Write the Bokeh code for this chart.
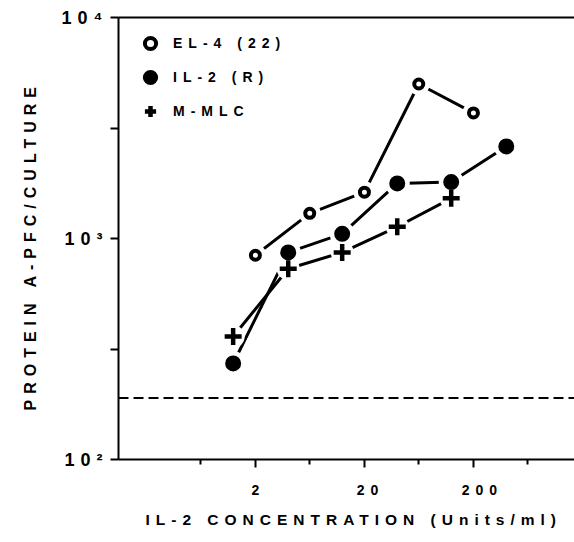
from bokeh.plotting import figure
from bokeh.models import Range1d, FixedTicker, LogAxis, Span, Legend, LegendItem, Title
from bokeh.embed import file_html
from bokeh.resources import INLINE

# ---- data ----
el4_x = [2, 6.3, 20, 63, 200]
el4_y = [840, 1300, 1620, 5000, 3700]
il2_x = [1.25, 4, 12.5, 40, 125, 400]
il2_y = [272, 865, 1050, 1775, 1800, 2610]
mlc_x = [1.25, 4, 12.5, 40, 125]
mlc_y = [360, 730, 865, 1130, 1520]
background_pfc = 190

series_names = ["EL-4 (22)", "IL-2 (R)", "M-MLC"]
x_major_ticks = [2, 20, 200]
x_major_labels = ["2", "20", "200"]
x_minor_ticks = [0.632, 6.32, 63.2, 632]
y_major_ticks = [100, 1000, 10000]
y_major_labels = ["10\u00b2", "10\u00b3", "10\u2074"]
y_minor_ticks = [316.2, 3162]
x_title = "IL-2 CONCENTRATION (Units/ml)"
y_title = "PROTEIN A-PFC/CULTURE"

x_lo, x_hi = 0.111, 1690
y_lo, y_hi = 100, 10000

FONT = "Liberation Sans"

p = figure(width=574, height=541, x_axis_type="log", y_axis_type="log",
           x_range=Range1d(x_lo, x_hi), y_range=Range1d(y_lo, y_hi),
           output_backend="svg", toolbar_location=None,
           min_border_left=118, min_border_right=0, min_border_top=17,
           min_border_bottom=82)
p.grid.visible = False
p.outline_line_color = None
p.stylesheets = [":host { letter-spacing: 6px; }"]

# x axis
xa = p.xaxis[0]
xa.ticker = FixedTicker(ticks=x_major_ticks, minor_ticks=x_minor_ticks)
xa.major_label_overrides = {t: l for t, l in zip(x_major_ticks, x_major_labels)}
xa.axis_line_width = 2
xa.major_tick_in = 0
xa.major_tick_out = 8
xa.minor_tick_in = 0
xa.minor_tick_out = 5
xa.major_tick_line_width = 2
xa.minor_tick_line_width = 2
xa.major_label_text_font = FONT
xa.major_label_text_font_style = "bold"
xa.major_label_text_font_size = "14px"
xa.major_label_text_color = "black"
xa.major_label_standoff = 17

# y axis
ya = p.yaxis[0]
ya.ticker = FixedTicker(ticks=y_major_ticks, minor_ticks=y_minor_ticks)
ya.major_label_overrides = {t: l for t, l in zip(y_major_ticks, y_major_labels)}
ya.axis_line_width = 2
ya.major_tick_in = 0
ya.major_tick_out = 8
ya.minor_tick_in = 0
ya.minor_tick_out = 8
ya.major_tick_line_width = 2
ya.minor_tick_line_width = 2
ya.major_label_text_font = FONT
ya.major_label_text_font_style = "bold"
ya.major_label_text_font_size = "18px"
ya.major_label_text_color = "black"
ya.major_label_standoff = 20

# top frame line
top = LogAxis(ticker=FixedTicker(ticks=[]), axis_line_width=2,
              major_tick_out=0, minor_tick_out=0, major_label_text_font_size="0px")
p.add_layout(top, "above")

# axis titles (left-aligned titles so the letter spacing grows away from the start)
p.add_layout(Title(text=x_title, align="left", offset=27, standoff=22,
                   text_font=FONT, text_font_style="bold", text_font_size="15.5px",
                   text_color="black"), "below")
p.add_layout(Title(text=y_title, align="left", offset=49, standoff=39,
                   text_font=FONT, text_font_style="bold", text_font_size="16px",
                   text_color="black"), "left")

# dashed background level
p.add_layout(Span(location=background_pfc, dimension="width", line_color="black",
                  line_width=2, line_dash="10 5"))

# connecting lines
p.line(el4_x, el4_y, line_width=3, line_color="black")
p.line(il2_x, il2_y, line_width=3, line_color="black")
p.line(mlc_x, mlc_y, line_width=3, line_color="black")

# white halos leave gaps between line ends and markers
p.scatter(el4_x, el4_y, marker="circle", size=22, fill_color="white", line_color=None)
p.scatter(il2_x, il2_y, marker="circle", size=25, fill_color="white", line_color=None)
p.scatter(mlc_x, mlc_y, marker="circle", size=23, fill_color="white", line_color=None)

r_el4 = p.scatter(el4_x, el4_y, marker="circle", size=9, fill_color="white",
                  line_color="black", line_width=4)
r_il2 = p.scatter(il2_x, il2_y, marker="circle", size=12, fill_color="black",
                  line_color="black", line_width=4)
r_mlc = p.scatter(mlc_x, mlc_y, marker="cross", size=17, line_color="black",
                  line_width=4.5)

legend = Legend(items=[LegendItem(label=n, renderers=[r])
                       for n, r in zip(series_names, [r_el4, r_il2, r_mlc])],
                location="top_left", margin=12, padding=0, spacing=6,
                glyph_width=40, glyph_height=28, label_standoff=3,
                border_line_color=None, background_fill_alpha=0,
                label_text_font=FONT, label_text_font_style="bold",
                label_text_font_size="14px", label_text_color="black")
p.add_layout(legend)

open("out.html", "w").write(file_html(p, INLINE))
